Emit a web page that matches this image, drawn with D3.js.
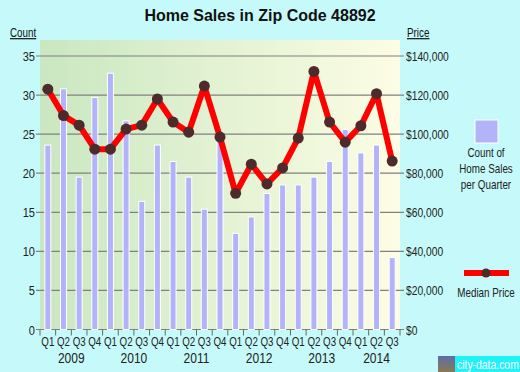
<!DOCTYPE html>
<html>
<head>
<meta charset="utf-8">
<script src="https://cdn.jsdelivr.net/npm/d3@7"></script>
<style>
  html, body { margin: 0; padding: 0; background: #c6fafa; }
  svg { display: block; }
</style>
</head>
<body>
<svg id="chart" width="520" height="372" font-family="Arial, 'Liberation Sans', sans-serif"></svg>
<script>
// Data
const quarters = ["Q1","Q2","Q3","Q4","Q1","Q2","Q3","Q4","Q1","Q2","Q3","Q4",
                  "Q1","Q2","Q3","Q4","Q1","Q2","Q3","Q4","Q1","Q2","Q3"];
const years = ["2009","2010","2011","2012","2013","2014"];
const salesCount = [23.6, 30.8, 19.5, 29.7, 32.8, 26.7, 16.4, 23.6, 21.5, 19.5, 15.4, 24.4,
                    12.3, 14.4, 17.4, 18.5, 18.5, 19.5, 21.5, 25.6, 22.6, 23.6, 9.2];
const medianPrice = [123000, 109500, 104600, 92300, 92300, 102600, 104600, 118000, 106200, 101000, 124600, 98500,
                     69700, 84600, 74500, 82700, 98000, 132100, 106200, 95900, 104300, 120700, 86200];
const countTicks = [0, 5, 10, 15, 20, 25, 30, 35];
const priceTicks = [0, 20000, 40000, 60000, 80000, 100000, 120000, 140000];

const svg = d3.select("#chart");
const plotLeft = 40, plotRight = 400, plotTop = 40, plotBottom = 329.5;

const x = d3.scaleBand().domain(d3.range(quarters.length)).range([plotLeft, plotRight]);
const yCount = d3.scaleLinear().domain([0, 35]).range([plotBottom, 56]);
const yPrice = d3.scaleLinear().domain([0, 140000]).range([plotBottom, 56]);

// narrow text: the reference uses a condensed face, so squeeze Arial
const squeeze = (px, py, sx) => `translate(${px},${py}) scale(${sx},1)`;

// background gradient of plot area
const defs = svg.append("defs");
const grad = defs.append("linearGradient").attr("id", "bg");
grad.append("stop").attr("offset", "0%").attr("stop-color", "#c9e7c0");
grad.append("stop").attr("offset", "50%").attr("stop-color", "#e3f2d3");
grad.append("stop").attr("offset", "100%").attr("stop-color", "#fcfde4");

svg.append("rect")
  .attr("x", plotLeft).attr("y", plotTop)
  .attr("width", plotRight - plotLeft).attr("height", plotBottom - plotTop)
  .attr("fill", "url(#bg)");

// title
svg.append("text")
  .attr("x", 260).attr("y", 21)
  .attr("text-anchor", "middle")
  .attr("font-size", 16).attr("font-weight", "bold")
  .attr("fill", "#111")
  .text("Home Sales in Zip Code 48892");

// grid lines
svg.append("g").selectAll("line")
  .data(countTicks)
  .join("line")
  .attr("x1", plotLeft - 4).attr("x2", plotRight + 4)
  .attr("y1", d => yCount(d)).attr("y2", d => yCount(d))
  .attr("stroke", "#808080").attr("stroke-width", 1.2);

// left axis labels
svg.append("g").selectAll("text")
  .data(countTicks)
  .join("text")
  .attr("transform", d => squeeze(plotLeft - 5, yCount(d) + 5, 0.85))
  .attr("text-anchor", "end")
  .attr("font-size", 13).attr("fill", "#222")
  .text(d => d);

// right axis labels
svg.append("g").selectAll("text")
  .data(priceTicks)
  .join("text")
  .attr("transform", d => squeeze(plotRight + 6, yPrice(d) + 5, 0.79))
  .attr("font-size", 13).attr("fill", "#222")
  .text(d => "$" + d3.format(",")(d));

// axis titles
svg.append("text").attr("transform", squeeze(10, 37, 0.82))
  .attr("font-size", 12).attr("fill", "#111")
  .attr("text-decoration", "underline").text("Count");
svg.append("text").attr("transform", squeeze(407, 37, 0.82))
  .attr("font-size", 12).attr("fill", "#111")
  .attr("text-decoration", "underline").text("Price");

// bars
const barW = 6;
svg.append("g").selectAll("rect")
  .data(salesCount)
  .join("rect")
  .attr("x", (d, i) => x(i) + x.bandwidth() / 2 - barW / 2)
  .attr("y", d => yCount(d))
  .attr("width", barW)
  .attr("height", d => plotBottom - yCount(d))
  .attr("fill", "#b3b3fa")
  .attr("stroke", "#fff").attr("stroke-width", 1);

// bottom tick marks
svg.append("g").selectAll("line")
  .data(d3.range(quarters.length + 1))
  .join("line")
  .attr("x1", i => plotLeft + i * x.step()).attr("x2", i => plotLeft + i * x.step())
  .attr("y1", plotBottom).attr("y2", plotBottom + 6)
  .attr("stroke", "#666").attr("stroke-width", 1);

// quarter labels
svg.append("g").selectAll("text")
  .data(quarters)
  .join("text")
  .attr("transform", (d, i) => squeeze(x(i) + x.bandwidth() / 2, 346, 0.75))
  .attr("text-anchor", "middle")
  .attr("font-size", 13).attr("fill", "#222")
  .text(d => d);

// year labels, centred under their quarters
svg.append("g").selectAll("text")
  .data(years)
  .join("text")
  .attr("transform", (d, j) => {
    const first = j * 4;
    const last = Math.min(first + 3, quarters.length - 1);
    return squeeze((x(first) + x(last) + x.bandwidth()) / 2, 363, 0.86);
  })
  .attr("text-anchor", "middle")
  .attr("font-size", 14).attr("fill", "#222")
  .text(d => d);

// median price line
const line = d3.line()
  .x((d, i) => x(i) + x.bandwidth() / 2)
  .y(d => yPrice(d));

svg.append("path")
  .datum(medianPrice)
  .attr("d", line)
  .attr("fill", "none")
  .attr("stroke", "#ff0000")
  .attr("stroke-width", 6)
  .attr("stroke-linejoin", "round");

svg.append("g").selectAll("circle")
  .data(medianPrice)
  .join("circle")
  .attr("cx", (d, i) => x(i) + x.bandwidth() / 2)
  .attr("cy", d => yPrice(d))
  .attr("r", 5.5)
  .attr("fill", "#4d2b2b");

// legend
const lg = svg.append("g");
lg.append("rect")
  .attr("x", 475).attr("y", 120).attr("width", 23).attr("height", 23)
  .attr("fill", "#b3b3fa").attr("stroke", "#fff").attr("stroke-width", 1);
["Count of", "Home Sales", "per Quarter"].forEach((t, i) => {
  lg.append("text")
    .attr("transform", squeeze(486, 157 + i * 16, 0.82))
    .attr("text-anchor", "middle")
    .attr("font-size", 12).attr("fill", "#222")
    .text(t);
});
lg.append("line")
  .attr("x1", 464).attr("x2", 509).attr("y1", 273).attr("y2", 273)
  .attr("stroke", "#ff0000").attr("stroke-width", 6);
lg.append("circle").attr("cx", 486).attr("cy", 273).attr("r", 4.5).attr("fill", "#4d2b2b");
lg.append("text")
  .attr("transform", squeeze(486, 297, 0.82))
  .attr("text-anchor", "middle")
  .attr("font-size", 12).attr("fill", "#222")
  .text("Median Price");

// city-data logo
const logoGrad = defs.append("linearGradient").attr("id", "logo")
  .attr("x1", 0).attr("y1", 0).attr("x2", 0).attr("y2", 1);
logoGrad.append("stop").attr("offset", "0%").attr("stop-color", "#5b6fa8");
logoGrad.append("stop").attr("offset", "100%").attr("stop-color", "#8a7a52");
svg.append("rect").attr("x", 438).attr("y", 356).attr("width", 17).attr("height", 16)
  .attr("fill", "url(#logo)");
svg.append("rect").attr("x", 455).attr("y", 356).attr("width", 65).attr("height", 16)
  .attr("fill", "#20f2fa");
svg.append("text").attr("transform", squeeze(457, 368.5, 0.8))
  .attr("font-size", 13).attr("fill", "#fff")
  .text("city-data.com");
</script>
</body>
</html>
